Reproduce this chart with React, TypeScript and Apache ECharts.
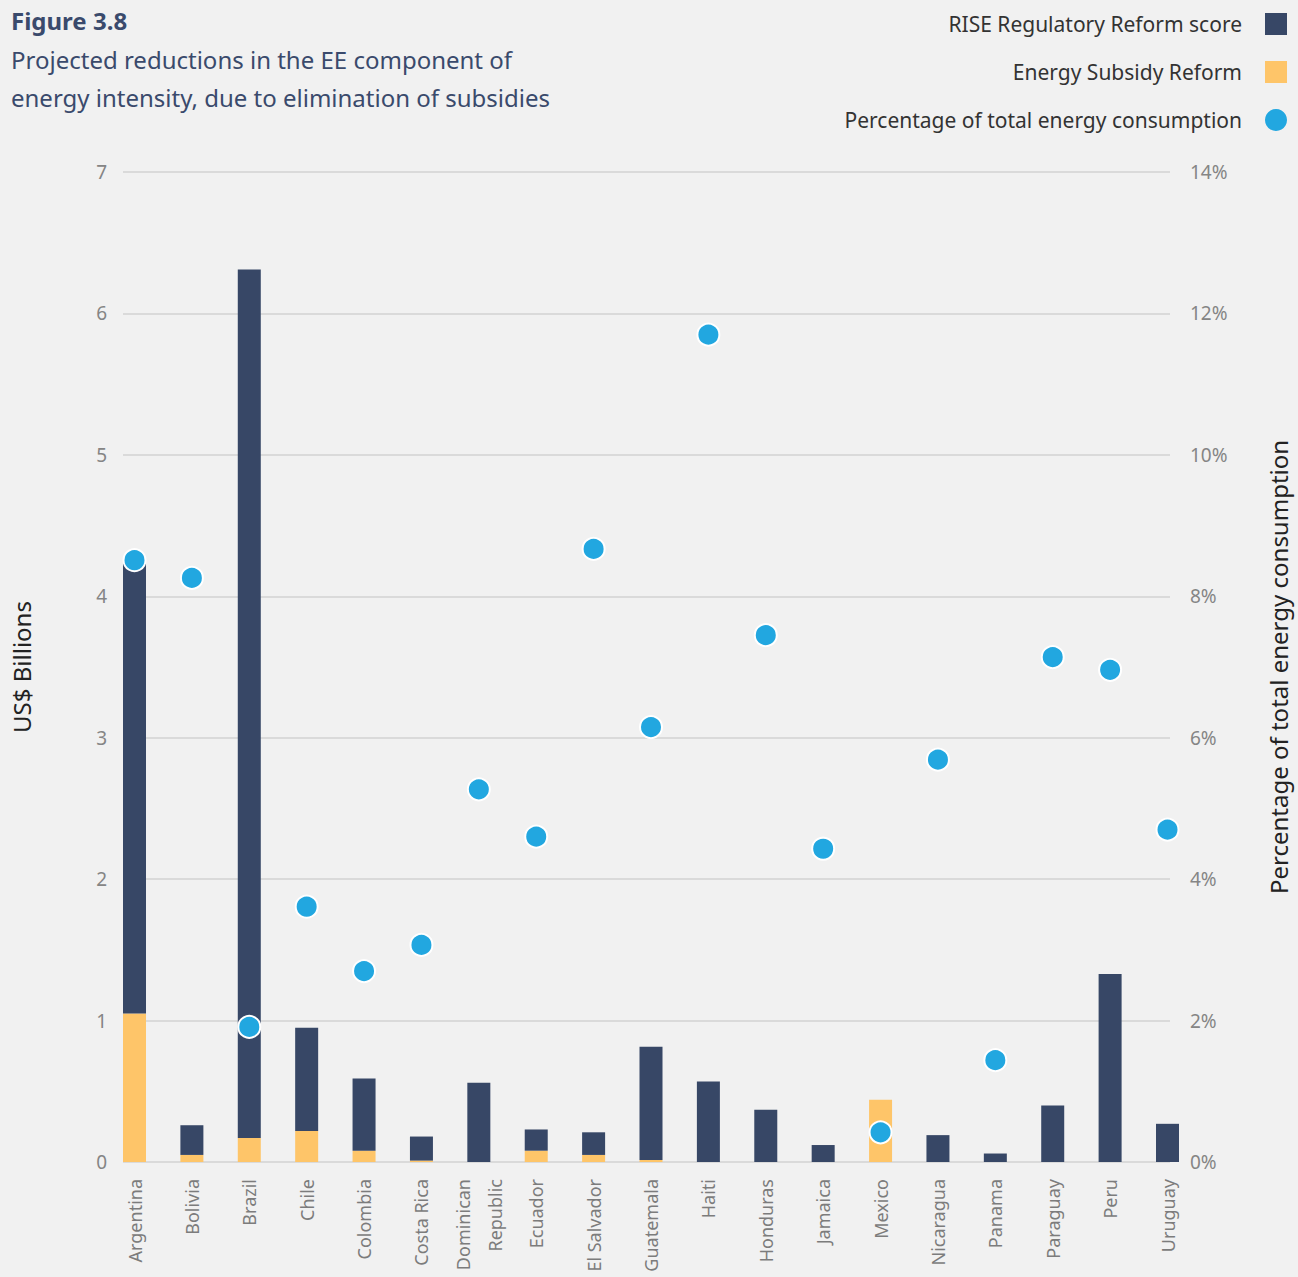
import React, { useEffect, useRef } from "react";
import * as echarts from "echarts";

const countries = [
  "Argentina", "Bolivia", "Brazil", "Chile", "Colombia", "Costa Rica",
  "Dominican\nRepublic", "Ecuador", "El Salvador", "Guatemala", "Haiti",
  "Honduras", "Jamaica", "Mexico", "Nicaragua", "Panama", "Paraguay", "Peru", "Uruguay",
];
const riseScore = [3.19, 0.21, 6.14, 0.73, 0.51, 0.17, 0.56, 0.15, 0.16, 0.8, 0.57, 0.37, 0.12, 0, 0.19, 0.06, 0.4, 1.33, 0.27];
const subsidyReform = [1.05, 0.05, 0.17, 0.22, 0.08, 0.01, 0, 0.08, 0.05, 0.015, 0, 0, 0, 0.44, 0, 0, 0, 0, 0];
const pctConsumption = [8.51, 8.26, 1.91, 3.61, 2.7, 3.07, 5.27, 4.6, 8.67, 6.15, 11.7, 7.45, 4.43, 0.42, 5.69, 1.44, 7.14, 6.96, 4.7];
const leftTicks = { min: 0, max: 7, interval: 1 };
const rightTicks = { min: 0, max: 14, interval: 2 };

const FONT = "Noto Sans";
const DARK = "#374766";
const YELLOW = "#fec569";
const BLUE = "#22a7e0";

export default function App() {
  const ref = useRef<HTMLDivElement>(null);
  useEffect(() => {
    const chart = echarts.init(ref.current!, null, { renderer: "svg" });
    const gridPos = { top: 172, bottom: 115 };
    chart.setOption({
      animation: false,
      backgroundColor: "#f1f1f1",
      textStyle: { fontFamily: FONT },
      graphic: [
        { type: "text", left: 11, top: 8, style: { text: "Figure 3.8", font: `bold 24px "${FONT}"`, fill: "#3a4a6c" } },
        { type: "text", left: 11, top: 40, style: { text: "Projected reductions in the EE component of\nenergy intensity, due to elimination of subsidies", font: `24px "${FONT}"`, lineHeight: 38, fill: "#3a4a6c" } },
      ],
      legend: {
        orient: "vertical",
        right: 6,
        top: 8,
        align: "right",
        itemWidth: 22,
        itemHeight: 22,
        itemGap: 26,
        textStyle: { fontSize: 21, color: "#333", fontFamily: FONT, padding: [0, 18, 0, 0] },
        data: [
          { name: "RISE Regulatory Reform score", icon: "rect" },
          { name: "Energy Subsidy Reform", icon: "rect" },
          { name: "Percentage of total energy consumption", icon: "circle", itemStyle: { borderWidth: 0 } },
        ],
      },
      grid: [
        { left: 123, right: 118, ...gridPos },
        { left: 134.5, right: 130.5, ...gridPos },
      ],
      xAxis: [
        { type: "value", gridIndex: 0, min: 0, max: 1, show: false },
        {
          type: "category",
          gridIndex: 1,
          data: countries,
          boundaryGap: false,
          axisLine: { show: false },
          axisTick: { show: false },
          splitLine: { show: false },
          axisLabel: { rotate: 90, margin: 17, fontSize: 18, color: "#7c7c7c", fontFamily: FONT, interval: 0, lineHeight: 32 },
        },
      ],
      yAxis: [
        {
          type: "value", gridIndex: 0, position: "left", ...leftTicks,
          name: "US$ Billions", nameLocation: "middle", nameRotate: 90, nameGap: 90,
          nameTextStyle: { fontSize: 24, color: "#222", fontFamily: FONT },
          axisLine: { show: false }, axisTick: { show: false },
          axisLabel: { fontSize: 19, color: "#858585", margin: 16, fontFamily: FONT },
          splitLine: { lineStyle: { color: "#d2d2d2", width: 1.5 } },
        },
        {
          type: "value", gridIndex: 0, position: "right", ...rightTicks,
          name: "Percentage of total energy consumption", nameLocation: "middle", nameRotate: 90, nameGap: 96,
          nameTextStyle: { fontSize: 24, color: "#222", fontFamily: FONT },
          axisLine: { show: false }, axisTick: { show: false },
          axisLabel: { fontSize: 19, color: "#858585", margin: 20, formatter: "{value}%", fontFamily: FONT },
          splitLine: { show: false },
        },
        { type: "value", gridIndex: 1, position: "left", ...leftTicks, show: false },
        { type: "value", gridIndex: 1, position: "right", ...rightTicks, show: false },
      ],
      series: [
        {
          name: "Energy Subsidy Reform", type: "bar", xAxisIndex: 1, yAxisIndex: 2, stack: "a",
          data: subsidyReform, barWidth: 23, clip: false, itemStyle: { color: YELLOW },
        },
        {
          name: "RISE Regulatory Reform score", type: "bar", xAxisIndex: 1, yAxisIndex: 2, stack: "a",
          data: riseScore, barWidth: 23, clip: false, itemStyle: { color: DARK },
        },
        {
          name: "Percentage of total energy consumption", type: "scatter", xAxisIndex: 1, yAxisIndex: 3,
          data: pctConsumption, symbolSize: 22, clip: false, z: 5,
          itemStyle: { color: BLUE, borderColor: "#fff", borderWidth: 2, opacity: 1 },
        },
      ],
    });
    return () => chart.dispose();
  }, []);
  return <div ref={ref} style={{ position: "absolute", left: 0, top: 0, width: 1298, height: 1277 }} />;
}
